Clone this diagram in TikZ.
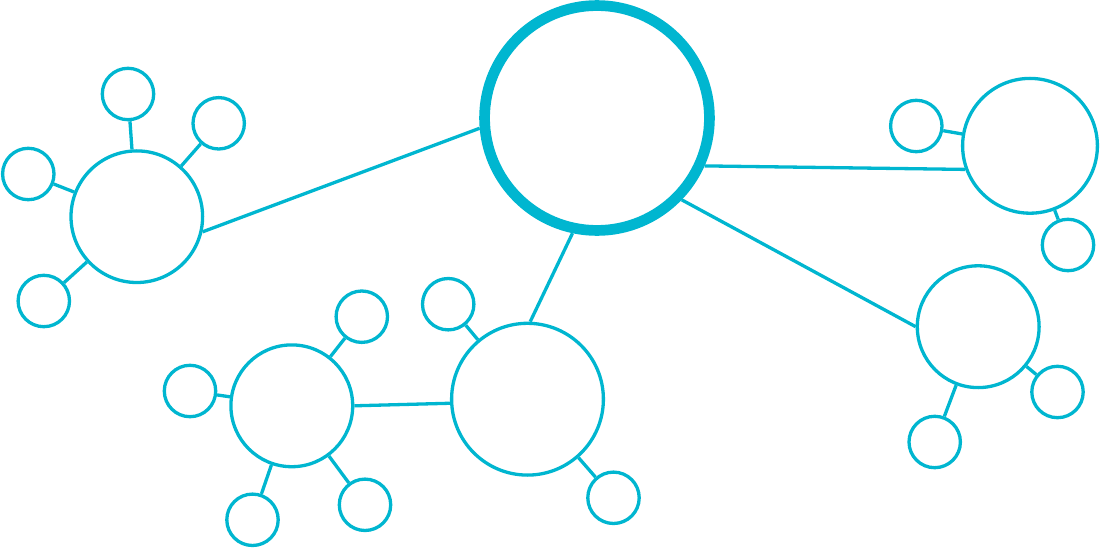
\documentclass[tikz,border=0pt]{standalone}
\begin{document}
\begin{tikzpicture}[x=1pt,y=-1pt,
  every node/.style={circle,draw=netc,inner sep=0pt,line width=3.3pt,fill=white},
  sat/.style={minimum size=51.4pt},
  link/.style={draw=netc,line width=3.3pt}]
\definecolor{netc}{RGB}{0,182,208}
\useasboundingbox (0,0) rectangle (1100,548);
% hubs
\node[minimum size=224.9pt,line width=10.7pt] (main) at (597,118) {};
\node[minimum size=131.6pt] (A) at (136.8,216.7) {};
\node[minimum size=134.8pt] (B) at (1030,145.8) {};
\node[minimum size=121.8pt] (C) at (978.2,326.7) {};
\node[minimum size=151.8pt] (D) at (527.5,399.2) {};
\node[minimum size=121.8pt] (E) at (291.8,405.8) {};
% satellites
\node[sat] (a1) at (128,94) {};
\node[sat] (a2) at (218.7,123.3) {};
\node[sat] (a3) at (28.3,174) {};
\node[sat] (a4) at (43.8,301) {};
\node[sat] (b1) at (916.3,126) {};
\node[sat] (b2) at (1068,245) {};
\node[sat] (c1) at (1057.5,392) {};
\node[sat] (c2) at (934.7,442) {};
\node[sat] (d1) at (448.2,304.2) {};
\node[sat] (d2) at (613.5,497.8) {};
\node[sat] (e1) at (361.8,316.7) {};
\node[sat] (e2) at (190,391) {};
\node[sat] (e3) at (365,504.8) {};
\node[sat] (e4) at (252.5,519.8) {};
% connectors
\path[link] (A.-13.6) -- (main.185.9);
\path[link] (main.-24.8) -- (B.200.5);
\path[link] (main.-44.7) -- (C.180);
\path[link] (main.-102.4) -- (D.88);
\path[link] (E.0.8) -- (D.183.7);
\foreach \s/\h in {a1/A,a2/A,a3/A,a4/A,b1/B,b2/B,c1/C,c2/C,d1/D,d2/D,e1/E,e2/E,e3/E,e4/E}
  \path[link] (\s) -- (\h);
\end{tikzpicture}
\end{document}
